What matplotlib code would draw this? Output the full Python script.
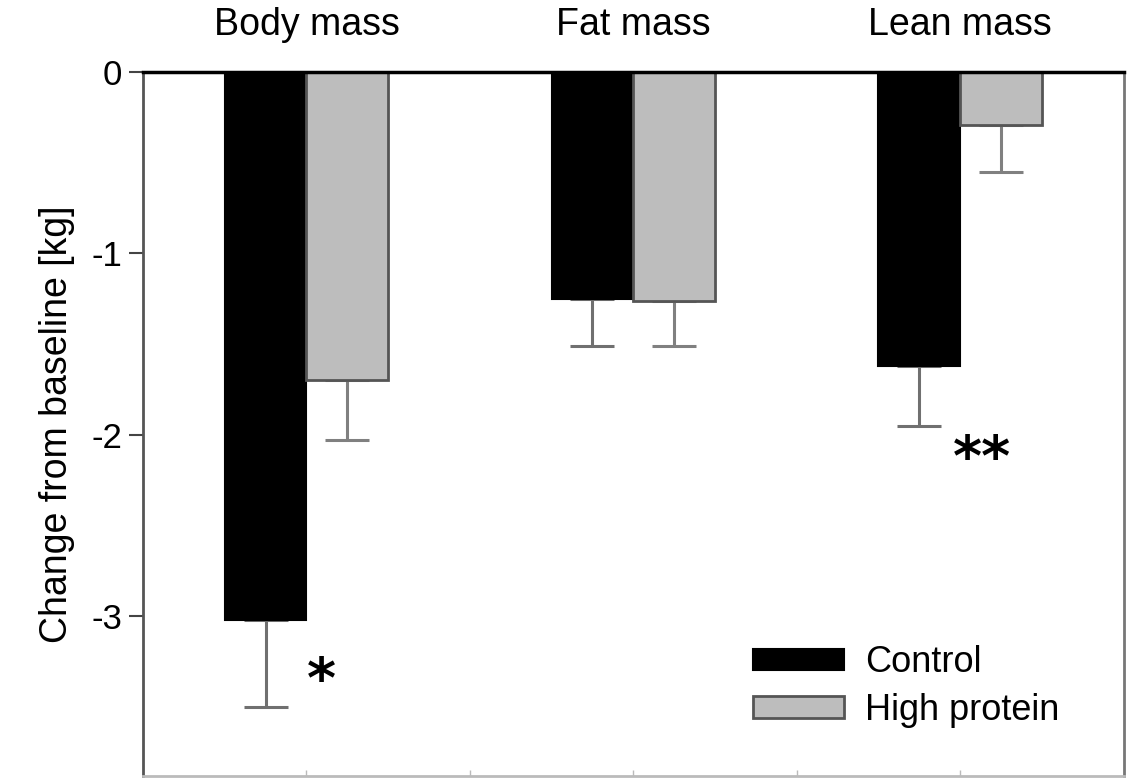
import numpy as np
import matplotlib.pyplot as plt

plt.rcParams['font.family'] = ['Liberation Sans', 'DejaVu Sans']

# change from baseline (kg), mean and one-sided error
groups = ['Body mass', 'Fat mass', 'Lean mass']
control = [-3.02, -1.25, -1.62]
control_err = [0.48, 0.26, 0.33]
high_protein = [-1.70, -1.26, -0.29]
high_protein_err = [0.33, 0.25, 0.26]
yticks = [0, -1, -2, -3]

centers = np.array([2, 6, 10])
width = 1.0

fig = plt.figure(figsize=(11.35, 7.78), dpi=100)
ax = fig.add_axes([0.126, 0.0026, 0.864, 0.905])

ax.bar(centers - width / 2, control, width, color='black', edgecolor='black',
       linewidth=1.5, label='Control', zorder=2)
ax.bar(centers + width / 2, high_protein, width, color='#bdbdbd', edgecolor='#555555',
       linewidth=2, label='High protein', zorder=2)

# downward error bars only
ax.errorbar(centers - width / 2, control, yerr=[control_err, [0, 0, 0]], fmt='none',
            ecolor='#707070', elinewidth=2.2, capsize=16, capthick=2.2, zorder=1)
ax.errorbar(centers + width / 2, high_protein, yerr=[high_protein_err, [0, 0, 0]], fmt='none',
            ecolor='#808080', elinewidth=2.2, capsize=16, capthick=2.2, zorder=1)

ax.set_xlim(0, 12)
ax.set_ylim(-3.88, 0)

ax.set_yticks(yticks)
ax.set_yticklabels([str(v) for v in yticks], fontsize=25)
ax.tick_params(axis='y', direction='out', length=10, width=1.5, color='#444444', pad=5)
ax.set_xticks([2, 4, 6, 8, 10])
ax.set_xticklabels([])
ax.tick_params(axis='x', direction='in', length=4, width=1, color='#bbbbbb')

ax.spines['top'].set_linewidth(2.5)
ax.spines['top'].set_color('black')
ax.spines['left'].set_linewidth(2)
ax.spines['left'].set_color('#555555')
ax.spines['right'].set_linewidth(2)
ax.spines['right'].set_color('#777777')
ax.spines['bottom'].set_linewidth(2)
ax.spines['bottom'].set_color('#bbbbbb')

ax.set_ylabel('Change from baseline [kg]', fontsize=27, labelpad=12)

for c, name in zip(centers, groups):
    ax.text(c, 1.067, name, transform=ax.get_xaxis_transform(), ha='center',
            va='center', fontsize=27)

# significance markers
ax.text(2.18, -3.36, '*', ha='center', va='center', fontsize=40,
        family='DejaVu Sans', fontweight='bold')
ax.text(10.27, -2.14, '**', ha='center', va='center', fontsize=40,
        family='DejaVu Sans', fontweight='bold')

ax.legend(loc='lower right', bbox_to_anchor=(0.968, 0.022), frameon=False, fontsize=26,
          handlelength=2.5, handleheight=0.55, handletextpad=0.6, labelspacing=0.35)

fig.savefig('out.png', dpi=100)
